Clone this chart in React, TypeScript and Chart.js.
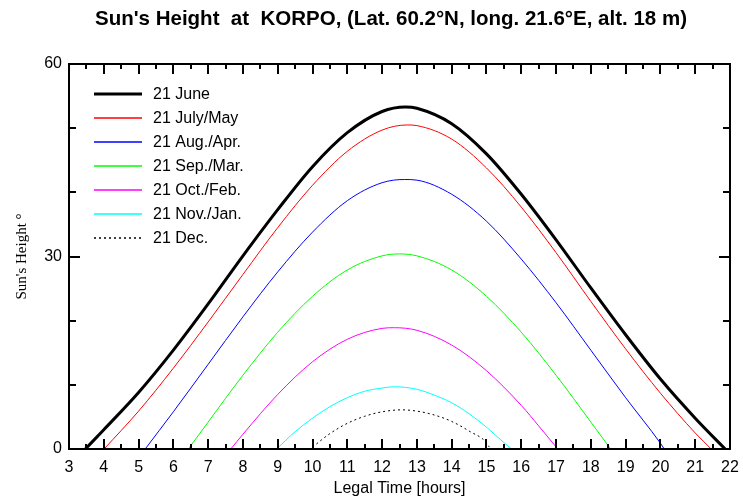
import React, { useEffect, useRef } from "react";
import { Chart, registerables } from "chart.js";

Chart.register(...registerables);

// ---- Text ----
const TITLE = "Sun's Height  at  KORPO, (Lat. 60.2°N, long. 21.6°E, alt. 18 m)";
const X_TITLE = "Legal Time [hours]";
const Y_TITLE = "Sun's Height °";

// ---- Axes ----
const X_MIN = 3;
const X_MAX = 22;
const Y_MIN = 0;
const Y_MAX = 60;
const X_TICKS = [3, 4, 5, 6, 7, 8, 9, 10, 11, 12, 13, 14, 15, 16, 17, 18, 19, 20, 21, 22];
const X_HALF_TICKS = [3.5, 4.5, 5.5, 6.5, 7.5, 8.5, 9.5, 10.5, 11.5, 12.5, 13.5, 14.5, 15.5, 16.5, 17.5, 18.5, 19.5, 20.5, 21.5];
const Y_LABELS = [0, 30, 60];
const Y_MINOR = [10, 20, 40, 50];

// ---- Series: legal time [h] and sun height [deg] ----
const JUNE_T = [3.47, 4, 5, 6, 7, 8, 9, 10, 11, 12, 12.67, 13, 14, 15, 16, 17, 18, 19, 20, 21, 21.86];
const JUNE_H = [0, 3.0, 8.8, 15.4, 22.6, 30.1, 37.3, 44.0, 49.3, 52.6, 53.3, 53.1, 50.7, 46.0, 39.7, 32.6, 25.1, 17.8, 10.9, 4.8, 0];

const JULY_MAY_T = [4.01, 5, 6, 7, 8, 9, 10, 11, 12, 12.72, 13, 14, 15, 16, 17, 18, 19, 20, 21, 21.46];
const JULY_MAY_H = [0, 5.9, 12.6, 19.8, 27.2, 34.5, 41.1, 46.4, 49.7, 50.5, 50.4, 48.3, 43.8, 37.7, 30.6, 23.0, 15.6, 8.7, 2.5, 0];

const AUG_APR_T = [5.19, 6, 7, 8, 9, 10, 11, 12, 12.65, 13, 14, 15, 16, 17, 18, 19, 20, 20.11];
const AUG_APR_H = [0, 5.8, 13.2, 20.6, 27.6, 33.8, 38.7, 41.5, 42.0, 41.9, 39.7, 35.5, 29.6, 22.8, 15.4, 8.0, 0.9, 0];

const SEP_MAR_T = [6.43, 7, 8, 9, 10, 11, 12, 12.5, 13, 14, 15, 16, 17, 18, 18.57];
const SEP_MAR_H = [0, 4.2, 11.5, 18.2, 23.8, 27.9, 30.1, 30.4, 30.1, 27.9, 23.8, 18.2, 11.5, 4.2, 0];

const OCT_FEB_T = [7.65, 8, 9, 10, 11, 12, 12.35, 13, 14, 15, 16, 16.5, 17.05];
const OCT_FEB_H = [0, 2.3, 8.5, 13.6, 17.1, 18.8, 18.9, 18.5, 16.2, 12.2, 6.8, 3.6, 0];

const NOV_JAN_T = [8.97, 9.5, 10, 10.5, 11, 11.5, 12, 12.35, 13, 13.5, 14, 14.5, 15, 15.5, 15.72];
const NOV_JAN_H = [0, 2.7, 4.8, 6.6, 8.0, 9.0, 9.5, 9.7, 9.3, 8.4, 7.2, 5.5, 3.4, 1.0, 0];

const DEC_T = [10.0, 10.5, 11, 11.5, 12, 12.56, 13, 13.5, 14, 14.5, 15, 15.08];
const DEC_H = [0.3, 2.4, 4.0, 5.1, 5.8, 6.1, 5.9, 5.3, 4.3, 2.8, 1.0, 0.3];

const SERIES_LABELS = [
  "21 June",
  "21 July/May",
  "21 Aug./Apr.",
  "21 Sep./Mar.",
  "21 Oct./Feb.",
  "21 Nov./Jan.",
  "21 Dec.",
];
const SERIES_COLORS = ["#000000", "#ff0000", "#0000ff", "#00ff00", "#ff00ff", "#00ffff", "#000000"];
const SERIES_WIDTHS = [3, 1, 1, 1, 1, 1, 1];
const DEC_DASH = [2, 3];

const SERIES_T = [JUNE_T, JULY_MAY_T, AUG_APR_T, SEP_MAR_T, OCT_FEB_T, NOV_JAN_T, DEC_T];
const SERIES_H = [JUNE_H, JULY_MAY_H, AUG_APR_H, SEP_MAR_H, OCT_FEB_H, NOV_JAN_H, DEC_H];

const SANS = '"Liberation Sans", Arial, sans-serif';
const SERIF = '"Liberation Serif", "Times New Roman", serif';

// Frame, inward ticks, labels, titles and the in-plot legend
const decorPlugin = {
  id: "sunDecor",
  afterDatasetsDraw(chart: any) {
    const ctx: CanvasRenderingContext2D = chart.ctx;
    const xs = chart.scales.x;
    const ys = chart.scales.y;
    const { left, right, top, bottom } = chart.chartArea;
    ctx.save();

    // frame
    ctx.strokeStyle = "#000";
    ctx.lineWidth = 2;
    ctx.strokeRect(left, top, right - left, bottom - top);

    // x ticks (top and bottom, pointing inward)
    ctx.lineWidth = 2;
    const vTick = (v: number, len: number) => {
      const px = Math.round(xs.getPixelForValue(v));
      ctx.beginPath();
      ctx.moveTo(px, bottom);
      ctx.lineTo(px, bottom - len);
      ctx.moveTo(px, top);
      ctx.lineTo(px, top + len);
      ctx.stroke();
    };
    X_TICKS.forEach((v) => vTick(v, 10));
    X_HALF_TICKS.forEach((v) => vTick(v, 5));

    // y ticks (left and right, pointing inward)
    const hTick = (v: number, len: number) => {
      const py = Math.round(ys.getPixelForValue(v));
      ctx.beginPath();
      ctx.moveTo(left, py);
      ctx.lineTo(left + len, py);
      ctx.moveTo(right, py);
      ctx.lineTo(right - len, py);
      ctx.stroke();
    };
    Y_LABELS.forEach((v) => hTick(v, 11));
    Y_MINOR.forEach((v) => hTick(v, 7));

    // tick labels
    ctx.fillStyle = "#000";
    ctx.font = `16px ${SANS}`;
    ctx.textAlign = "center";
    ctx.textBaseline = "middle";
    X_TICKS.forEach((v) => {
      ctx.fillText(String(v), xs.getPixelForValue(v), bottom + 19);
    });
    ctx.textAlign = "right";
    Y_LABELS.forEach((v) => {
      ctx.fillText(String(v), left - 7, ys.getPixelForValue(v));
    });

    // axis titles
    ctx.textAlign = "center";
    ctx.fillText(X_TITLE, (left + right) / 2, bottom + 40);
    ctx.save();
    ctx.translate(22, (top + bottom) / 2);
    ctx.rotate(-Math.PI / 2);
    ctx.font = `15px ${SERIF}`;
    ctx.fillText(Y_TITLE, 0, 0);
    ctx.restore();

    // chart title
    ctx.font = `bold 20.5px ${SANS}`;
    ctx.fillText(TITLE, 391, 19);

    // legend
    const lx0 = left + 25;
    const lx1 = left + 73;
    const tx = left + 84;
    const rowY0 = top + 30;
    const rowGap = 24;
    chart.data.datasets.forEach((ds: any, i: number) => {
      const y = rowY0 + i * rowGap;
      ctx.save();
      ctx.strokeStyle = ds.borderColor;
      ctx.lineWidth = ds.borderWidth > 1 ? ds.borderWidth : 1.5;
      ctx.setLineDash(ds.borderDash || []);
      ctx.beginPath();
      ctx.moveTo(lx0, y);
      ctx.lineTo(lx1, y);
      ctx.stroke();
      ctx.restore();
      ctx.textAlign = "left";
      ctx.font = `16px ${SANS}`;
      ctx.fillStyle = "#000";
      ctx.fillText(ds.label, tx, y + 1);
    });

    ctx.restore();
  },
};

export default function App() {
  const canvasRef = useRef<HTMLCanvasElement | null>(null);

  useEffect(() => {
    const canvas = canvasRef.current;
    if (!canvas) return;

    const datasets = SERIES_LABELS.map((label, i) => ({
      label,
      data: SERIES_T[i].map((t, k) => ({ x: t, y: SERIES_H[i][k] })),
      borderColor: SERIES_COLORS[i],
      borderWidth: SERIES_WIDTHS[i],
      borderDash: i === SERIES_LABELS.length - 1 ? DEC_DASH : undefined,
      pointRadius: 0,
      fill: false,
      cubicInterpolationMode: "monotone" as const,
    }));

    const chart = new Chart(canvas, {
      type: "line",
      data: { datasets },
      options: {
        animation: false,
        responsive: false,
        devicePixelRatio: 1,
        layout: { padding: { left: 69, right: 13, top: 64, bottom: 50 } },
        plugins: {
          legend: { display: false },
          title: { display: false },
          tooltip: { enabled: false },
        },
        scales: {
          x: { type: "linear", min: X_MIN, max: X_MAX, display: false },
          y: { type: "linear", min: Y_MIN, max: Y_MAX, display: false },
        },
      },
      plugins: [decorPlugin],
    });

    return () => chart.destroy();
  }, []);

  return (
    <div style={{ position: "fixed", left: 0, top: 0, width: 743, height: 499, background: "#fff" }}>
      <canvas ref={canvasRef} width={743} height={499} style={{ display: "block" }} />
    </div>
  );
}
